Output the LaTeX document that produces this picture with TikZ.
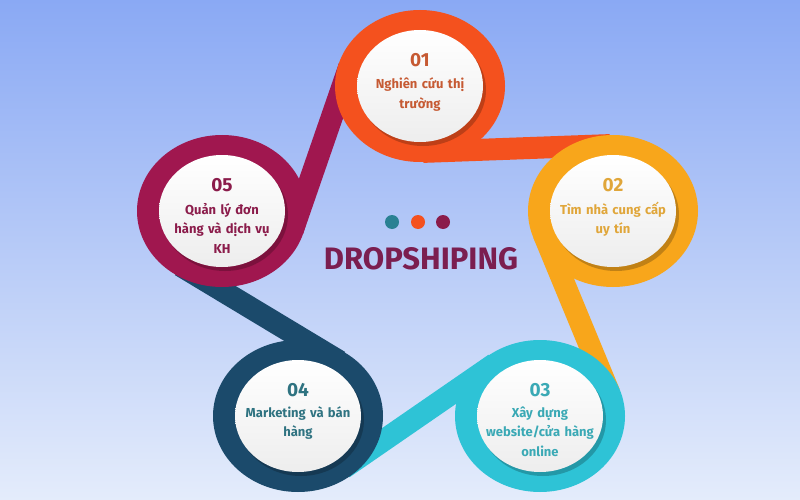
\documentclass[tikz,border=0pt]{standalone}
\usepackage{fontspec}
\setmainfont{Fira Sans}
\usetikzlibrary{shapes.geometric}

\definecolor{bgtop}{HTML}{8AA9F4}
\definecolor{bgmid}{HTML}{B8CAF6}
\definecolor{bgbot}{HTML}{E4ECFB}
\definecolor{cOrange}{HTML}{F4511E}
\definecolor{cAmber}{HTML}{F8A61B}
\definecolor{cCyan}{HTML}{2EC3D6}
\definecolor{cNavy}{HTML}{1B4A6B}
\definecolor{cCrimson}{HTML}{A0174F}
\definecolor{tOrange}{HTML}{C65A33}
\definecolor{tAmber}{HTML}{E0A63A}
\definecolor{tCyan}{HTML}{3AA9B5}
\definecolor{tNavy}{HTML}{2F7381}
\definecolor{tCrimson}{HTML}{8B1C4B}
\definecolor{tTitle}{HTML}{7B1E50}
\definecolor{dTeal}{HTML}{2A8193}

\begin{document}
\begin{tikzpicture}[x=1pt, y=-1pt, >=latex]

  \tikzstyle{ring}=[draw=none, ellipse, minimum width=170pt, minimum height=152pt, inner sep=0pt]
  \tikzstyle{drop}=[draw=none, ellipse, minimum width=126pt, minimum height=112pt, inner sep=0pt, fill=black, opacity=0.22]
  \tikzstyle{disc}=[draw=none, ellipse, minimum width=126pt, minimum height=112pt, inner sep=0pt, top color=white, bottom color=black!7]
  \tikzstyle{band}=[line width=22pt]
  \tikzstyle{num}=[inner sep=0pt, font=\fontsize{19}{20}\selectfont\bfseries]
  \tikzstyle{lbl}=[inner sep=0pt, text width=130pt, align=center, anchor=base, font=\fontsize{13}{19.5}\selectfont\bfseries]
  \tikzstyle{dot}=[circle, minimum size=14pt, inner sep=0pt]

  % Background
  \useasboundingbox (0,0) rectangle (800,500);
  \shade[top color=bgtop, middle color=bgmid, bottom color=bgbot] (0,0) rectangle (800,500);

  % Band ends (tangent points on the rings)
  \coordinate (b1s) at (423.1,151.9);
  \coordinate (b1e) at (609.9,145.1);
  \coordinate (b2s) at (543.6,233.9);
  \coordinate (b2e) at (609.4,393.1);
  \coordinate (b3s) at (494.7,363.8);
  \coordinate (b3e) at (343.3,468.2);
  \coordinate (b4s) at (339.4,361.3);
  \coordinate (b4e) at (180.6,265.7);
  \coordinate (b5s) at (292.7,230.4);
  \coordinate (b5e) at (349.3,66.6);

  % Bands
  \draw[band, cOrange] (b1s) -- (b1e);
  \draw[band, cAmber] (b2s) -- (b2e);
  \draw[band, cCyan] (b3s) -- (b3e);
  \draw[band, cNavy] (b4s) -- (b4e);
  \draw[band, cCrimson] (b5s) -- (b5e);

  % Rings
  \node[ring, fill=cOrange] (r1) at (420,86) {};
  \node[ring, fill=cAmber] (r2) at (613,211) {};
  \node[ring, fill=cCyan] (r3) at (540,416) {};
  \node[ring, fill=cNavy] (r4) at (298,416) {};
  \node[ring, fill=cCrimson] (r5) at (222,211) {};

  % Shadows
  \node[drop] (s1) at (423,90) {};
  \node[drop] (s2) at (616,215) {};
  \node[drop] (s3) at (543,420) {};
  \node[drop] (s4) at (301,420) {};
  \node[drop] (s5) at (225,215) {};

  % Discs
  \node[disc] (d1) at (420,86) {};
  \node[disc] (d2) at (613,211) {};
  \node[disc] (d3) at (540,416) {};
  \node[disc] (d4) at (298,416) {};
  \node[disc] (d5) at (222,211) {};

  % Numbers
  \node[num, text=tOrange] (n1) at (420,60) {01};
  \node[num, text=tAmber] (n2) at (613,185) {02};
  \node[num, text=tCyan] (n3) at (540,390) {03};
  \node[num, text=tNavy] (n4) at (298,390) {04};
  \node[num, text=tCrimson] (n5) at (222,185) {05};

  % Labels
  \node[lbl, text=tOrange] (l1) at (420,89) {Nghiên cứu thị\\trường};
  \node[lbl, text=tAmber] (l2) at (613,214) {Tìm nhà cung cấp\\uy tín};
  \node[lbl, text=tCyan] (l3) at (540,417) {Xây dựng\\website/cửa hàng\\online};
  \node[lbl, text=tNavy] (l4) at (298,417) {Marketing và bán\\hàng};
  \node[lbl, text=tCrimson] (l5) at (222,214) {Quản lý đơn\\hàng và dịch vụ\\KH};

  % Title
  \node[dot, fill=dTeal] (dot1) at (392,222) {};
  \node[dot, fill=cOrange] (dot2) at (418,222) {};
  \node[dot, fill=tCrimson] (dot3) at (443,222) {};
  \node[text=tTitle, font=\fontsize{31}{32}\selectfont\bfseries] (title) at (421,259) {DROPSHIPING};

\end{tikzpicture}
\end{document}
